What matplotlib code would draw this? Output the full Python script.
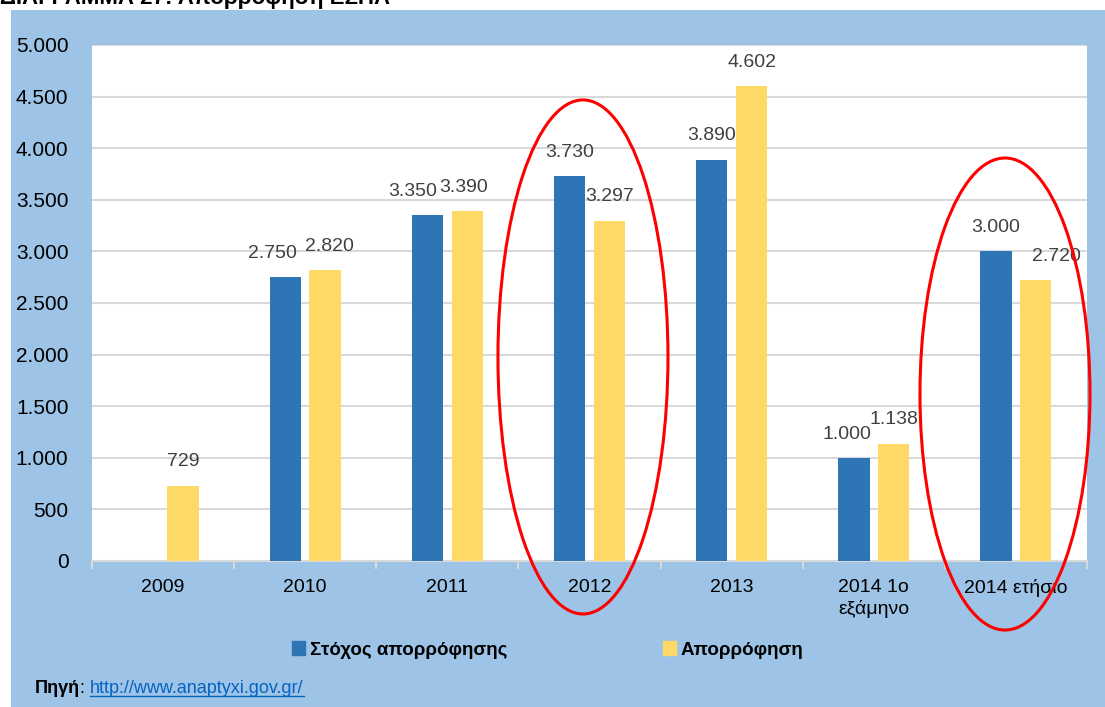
import matplotlib
matplotlib.use("Agg")
import matplotlib.pyplot as plt
from matplotlib.patches import Rectangle, Ellipse
from matplotlib.lines import Line2D
import numpy as np

plt.rcParams['font.family'] = ['Liberation Sans', 'DejaVu Sans']

# data
categories = ["2009", "2010", "2011", "2012", "2013", "2014 1ο\nεξάμηνο", "2014 ετήσιο"]
target = [np.nan, 2750, 3350, 3730, 3890, 1000, 3000]
absorbed = [729, 2820, 3390, 3297, 4602, 1138, 2720]
series_names = ["Στόχος απορρόφησης", "Απορρόφηση"]
yticks = [0, 500, 1000, 1500, 2000, 2500, 3000, 3500, 4000, 4500, 5000]

blue = "#2E75B6"
yellow = "#FFD966"
bg = "#9DC3E6"

W, H = 1105, 707
fig = plt.figure(figsize=(W / 100, H / 100), dpi=100)
fig.patch.set_facecolor("white")

# light blue chart frame
fig.patches.append(Rectangle((11 / W, 0), 1 - 11 / W, 1 - 10 / H,
                             transform=fig.transFigure, facecolor=bg,
                             edgecolor="none", zorder=-5))

# cut-off title at the very top
fig.text(0.0, 1 - 4 / H, "ΔΙΑΓΡΑΜΜΑ 27: Απορρόφηση ΕΣΠΑ", fontsize=16,
         fontweight="bold", ha="left", va="baseline")

ax = fig.add_axes([92 / W, (H - 561) / H, (1087 - 92) / W, (561 - 45) / H])
ax.set_zorder(2)
ax.set_facecolor("white")
ax.set_xlim(-0.5, len(categories) - 0.5)
ax.set_ylim(0, 5000)

x = np.arange(len(categories))
bw = 0.22
off = 0.14
b1 = ax.bar(x - off, target, bw, color=blue, zorder=3)
b2 = ax.bar(x + off, absorbed, bw, color=yellow, zorder=3)

# data labels (Excel had some of them nudged sideways)
dx_blue = [0, -13, -15, 0, 0, -7, 0]
dx_yellow = [0, 4, -4, 0, 0, 0, 21]
for i in range(len(categories)):
    if not np.isnan(target[i]):
        ax.annotate(f"{int(target[i]):,}".replace(",", "."), (x[i] - off, target[i]),
                    xytext=(dx_blue[i] * 0.72, 11), textcoords="offset points",
                    ha="center", va="bottom", fontsize=14, color="#404040")
    ax.annotate(f"{int(absorbed[i]):,}".replace(",", "."), (x[i] + off, absorbed[i]),
                xytext=(dx_yellow[i] * 0.72, 11), textcoords="offset points",
                ha="center", va="bottom", fontsize=14, color="#404040")

# axes styling
for s in ["top", "right", "left"]:
    ax.spines[s].set_visible(False)
ax.spines["bottom"].set_color("#D9D9D9")
ax.spines["bottom"].set_linewidth(1.5)
ax.set_yticks(yticks)
ax.set_yticklabels([f"{v:,}".replace(",", ".") for v in yticks], fontsize=15)
ax.tick_params(axis="y", length=0, pad=17)
ax.yaxis.grid(True, color="#D9D9D9", linewidth=1.5, zorder=0)
ax.set_axisbelow(True)
ax.set_xticks(x)
ax.set_xticklabels(categories, fontsize=14, linespacing=1.25)
ax.tick_params(axis="x", which="major", length=0, pad=13)
ax.set_xticks(np.arange(-0.5, len(categories)), minor=True)
ax.tick_params(axis="x", which="minor", length=6, width=1.5, color="#D9D9D9")

# red ellipses highlighting 2012 and 2014
for cx, cy, ew, eh in [(2.954, 1977, 1.196, 4981), (5.923, 1618, 1.196, 4574)]:
    ax.add_patch(Ellipse((cx, cy), ew, eh, fill=False, edgecolor="red",
                         linewidth=2.2, clip_on=False, zorder=5))

# legend
handles = [Rectangle((0, 0), 1, 1, color=blue), Rectangle((0, 0), 1, 1, color=yellow)]
fig.legend(handles, series_names, loc="center", bbox_to_anchor=(548 / W, 1 - 650 / H),
           ncol=2, frameon=False, prop={"size": 13.5, "weight": "bold"},
           handlelength=0.7, handleheight=0.7, handletextpad=0.25, columnspacing=8.3)

# source line
src = fig.text(35 / W, 1 - 693 / H, "Πηγή", fontsize=13, fontweight="bold",
               ha="left", va="baseline")
colon = fig.text(0, 0, ": ", fontsize=13, ha="left", va="baseline")
link = fig.text(0, 0, "http://www.anaptyxi.gov.gr/", fontsize=13,
                color="#0563C1", ha="left", va="baseline")
fig.canvas.draw()
r = fig.canvas.get_renderer()
e = src.get_window_extent(r)
colon.set_position((e.x1 / W, 1 - 693 / H))
e = colon.get_window_extent(r)
link.set_position((e.x1 / W, 1 - 693 / H))
e = link.get_window_extent(r)
fig.lines.append(Line2D([e.x0 / W, e.x1 / W], [1 - 696 / H] * 2,
                        transform=fig.transFigure, color="#0563C1", linewidth=1))

fig.savefig("out.png", dpi=100)
